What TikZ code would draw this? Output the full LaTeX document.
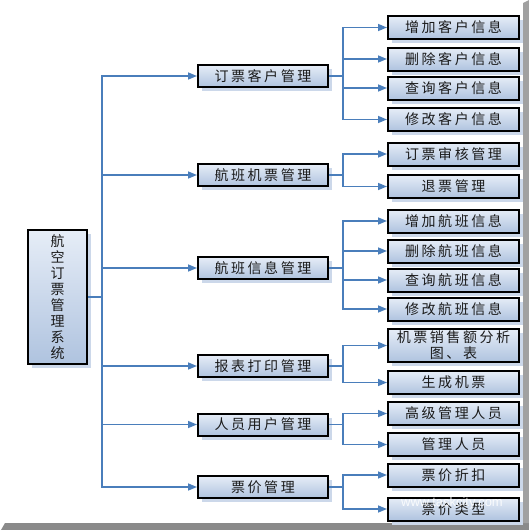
\documentclass[tikz,border=0pt]{standalone}
\usepackage{fontspec}
\newfontfamily\cjk[LetterSpace=18]{Noto Sans CJK SC}
\newfontfamily\cjkn{Noto Sans CJK SC}
\usetikzlibrary{arrows.meta,shadows}
\definecolor{lnblue}{HTML}{4A7EBB}
\definecolor{boxtop}{HTML}{E6EDF7}
\definecolor{boxbot}{HTML}{AFC3DF}
\definecolor{shadowc}{HTML}{CCD8EA}
\definecolor{txt}{HTML}{1A1A1A}
\definecolor{framec}{HTML}{8A8A8A}
\begin{document}
\begin{tikzpicture}[x=1pt,y=-1pt,
  box/.style={draw=black, line width=2pt, top color=boxtop, bottom color=boxbot,
    text=txt, inner sep=0pt, align=center,
    drop shadow={shadow xshift=4pt, shadow yshift=-4pt, fill=shadowc, opacity=1}},
  lone/.style={box, minimum width=130pt, minimum height=22pt, font=\cjk\fontsize{14}{16}\selectfont},
  ltwo/.style={box, minimum width=131pt, minimum height=23pt, font=\cjk\fontsize{14}{16}\selectfont},
  arr/.style={draw=lnblue, line width=1.5pt, -{Triangle[length=9pt,width=7pt]}}]
\useasboundingbox (0,0) rectangle (529,530);
% frame strips
\fill[framec] (5,523) -- (529,523) -- (529,530) -- (1,530) -- cycle;
\fill[framec!80] (523,3) -- (529,0) -- (529,523) -- (523,523) -- cycle;

% root
\node[box, minimum width=59pt, minimum height=134pt, font=\cjkn\fontsize{14}{16.1}\selectfont] (root) at (57.5,297)
  {航\\空\\订\\票\\管\\理\\系\\统};
\coordinate (tr) at (102,297);
\coordinate (bus) at (343,0);

% level 1
\node[lone] (a) at (263,76) {订票客户管理};
\node[lone] (b) at (263,175) {航班机票管理};
\node[lone] (c) at (263,268) {航班信息管理};
\node[lone] (d) at (263,366) {报表打印管理};
\node[lone] (e) at (263,424.5) {人员用户管理};
\node[lone] (f) at (263,487) {票价管理};

% level 2
\node[ltwo] (a1) at (453.5,27.5) {增加客户信息};
\node[ltwo] (a2) at (453.5,59) {删除客户信息};
\node[ltwo] (a3) at (453.5,88) {查询客户信息};
\node[ltwo] (a4) at (453.5,119.5) {修改客户信息};
\node[ltwo] (b1) at (453.5,154) {订票审核管理};
\node[ltwo] (b2) at (453.5,186.5) {退票管理};
\node[ltwo] (c1) at (453.5,221) {增加航班信息};
\node[ltwo] (c2) at (453.5,251) {删除航班信息};
\node[ltwo] (c3) at (453.5,280) {查询航班信息};
\node[ltwo] (c4) at (453.5,309) {修改航班信息};
\node[ltwo, minimum height=33pt] (d1) at (453.5,345.5) {机票销售额分析\\图、表};
\node[ltwo] (d2) at (453.5,382.5) {生成机票};
\node[ltwo] (e1) at (453.5,413.5) {高级管理人员};
\node[ltwo] (e2) at (453.5,444.5) {管理人员};
\node[ltwo] (f1) at (453.5,475) {票价折扣};
\node[ltwo] (f2) at (453.5,509) {票价类型};

% root to level 1
\foreach \n in {a,b,c,d,e,f}
  \draw[arr] (root.east) -- (tr) |- (\n.west);

% level 1 to level 2
\foreach \p/\cs in {a/{a1,a2,a3,a4}, b/{b1,b2}, c/{c1,c2,c3,c4}, d/{d1,d2}, e/{e1,e2}, f/{f1,f2}}
  \foreach \q in \cs
    \draw[arr] (\p.east) -- (\p.east -| bus) |- (\q.west);

% watermark
\node[text=white, opacity=0.85, font=\fontspec{Liberation Sans}\fontsize{13}{13}\selectfont] (wm) at (452,503) {www.taskcity.com};
\end{tikzpicture}
\end{document}
